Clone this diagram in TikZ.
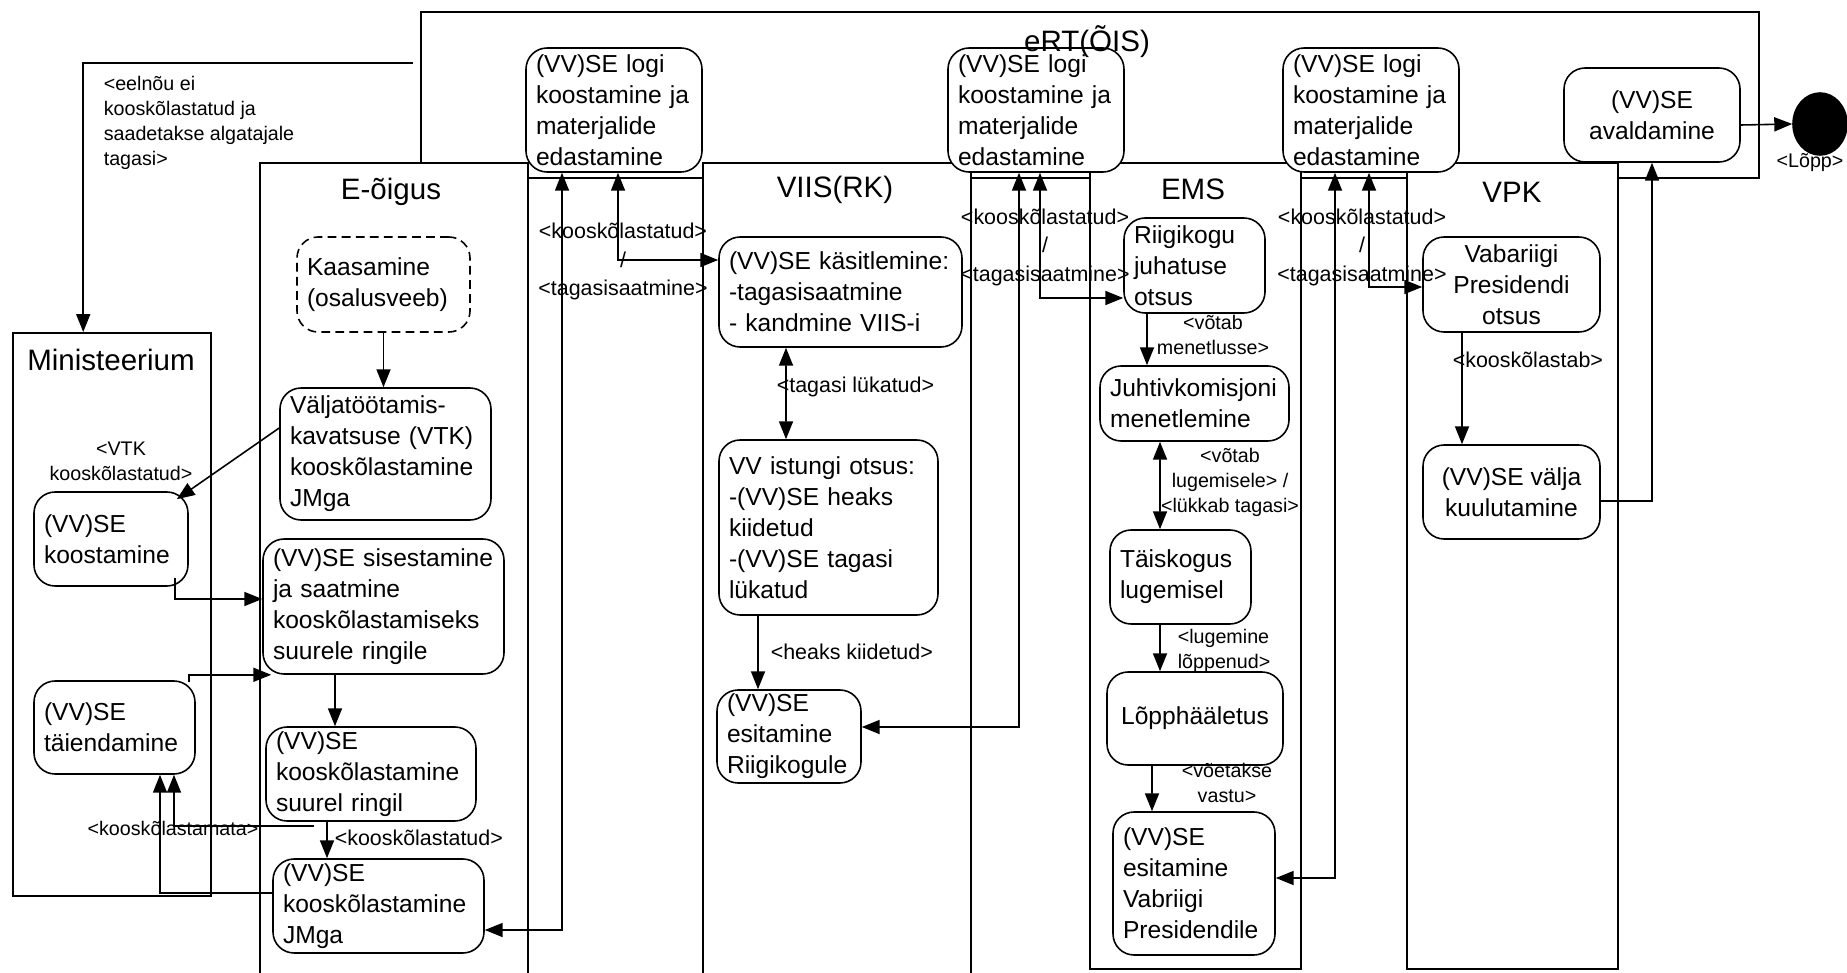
\documentclass[tikz,border=0pt]{standalone}
\usepackage{fontspec}
\setmainfont{Liberation Sans}
\usetikzlibrary{arrows.meta,shapes.geometric}

\newcommand{\boxfont}{\fontsize{7pt}{8.8pt}\selectfont}
\newcommand{\lanefont}{\fontsize{8.4pt}{10pt}\selectfont}
\newcommand{\lblfont}{\fontsize{5.6pt}{7.1pt}\selectfont}
\newcommand{\lblbfont}{\fontsize{6.1pt}{8.1pt}\selectfont}

\begin{document}
\begin{tikzpicture}
  [line width=.45pt,
   act/.style={draw,rounded corners=6pt,fill=white,font=\boxfont,align=left,inner xsep=.1cm,inner ysep=0pt},
   lane/.style={draw,fill=white,line width=.7pt,anchor=north west,inner sep=0pt},
   ttl/.style={font=\lanefont},
   lbl/.style={font=\lblfont,inner sep=0pt},
   lblb/.style={font=\lblbfont,inner sep=0pt},
   arr/.style={-{Triangle[length=5.1pt,width=4pt]}},
   arrs/.style={{Triangle[length=5.1pt,width=4pt]}-{Triangle[length=5.1pt,width=4pt]}}]
  \useasboundingbox (0,0) rectangle (18.47,-9.73);

  \node[lane,minimum width=13.38cm,minimum height=1.66cm] (ert) at (4.20,-0.11) {};
  \node[lane,minimum width=1.98cm,minimum height=5.63cm] (min) at (0.12,-3.32) {};
  \foreach \n/\x/\w/\h in {eoig/2.59/2.68/8.3, viis/7.02/2.68/8.3, ems/10.89/2.11/8.06, vpk/14.06/2.11/8.06}
    \node[lane,minimum width=\w cm,minimum height=\h cm] (\n) at (\x,-1.62) {};

  \node[act,dashed,dash pattern=on 2.5pt off 1.5pt,text width=1.53cm,minimum height=.95cm] (kaas) at (3.835,-2.845) {Kaasamine\\(osalusveeb)};
  \node[act,text width=1.91cm,minimum height=1.32cm] (valj) at (3.855,-4.54) {Väljatöötamis-\\kavatsuse (VTK)\\kooskõlastamine\\JMga};
  \node[act,text width=1.34cm,minimum height=.94cm] (koost) at (1.11,-5.39) {(VV)SE\\koostamine};
  \node[act,text width=2.21cm,minimum height=1.35cm] (sises) at (3.835,-6.065) {(VV)SE sisestamine\\ja saatmine\\kooskõlastamiseks\\suurele ringile};
  \node[act,text width=1.41cm,minimum height=.93cm] (taien) at (1.145,-7.275) {(VV)SE\\täiendamine};
  \node[act,text width=1.90cm,minimum height=.94cm] (suurel) at (3.71,-7.74) {(VV)SE\\kooskõlastamine\\suurel ringil};
  \node[act,text width=1.91cm,minimum height=.94cm] (jmga) at (3.785,-9.06) {(VV)SE\\kooskõlastamine\\JMga};
  \node[act,text width=1.56cm,minimum height=1.24cm] (logi1) at (6.14,-1.10) {(VV)SE logi\\koostamine ja\\materjalide\\edastamine};
  \node[act,text width=2.23cm,minimum height=1.10cm] (kasit) at (8.405,-2.92) {(VV)SE käsitlemine:\\-tagasisaatmine\\- kandmine VIIS-i};
  \node[act,text width=1.99cm,minimum height=1.75cm] (istung) at (8.285,-5.275) {VV istungi otsus:\\-(VV)SE heaks\\kiidetud\\-(VV)SE tagasi\\lükatud};
  \node[act,text width=1.24cm,minimum height=.93cm] (riigik) at (7.89,-7.365) {(VV)SE\\esitamine\\Riigikogule};
  \node[act,text width=1.56cm,minimum height=1.24cm] (logi2) at (10.36,-1.10) {(VV)SE logi\\koostamine ja\\materjalide\\edastamine};
  \node[act,text width=1.21cm,minimum height=.95cm] (juhat) at (11.945,-2.655) {Riigikogu\\juhatuse\\otsus};
  \node[act,text width=1.69cm,minimum height=.75cm] (juhtiv) at (11.945,-4.035) {Juhtivkomisjoni\\menetlemine};
  \node[act,text width=1.21cm,minimum height=.94cm] (taisk) at (11.805,-5.77) {Täiskogus\\lugemisel};
  \node[act,align=center,minimum width=1.76cm,minimum height=.93cm] (lopph) at (11.95,-7.185) {Lõpphääletus};
  \node[act,text width=1.42cm,minimum height=1.43cm] (presid) at (11.94,-8.835) {(VV)SE\\esitamine\\Vabriigi\\Presidendile};
  \node[act,text width=1.56cm,minimum height=1.24cm] (logi3) at (13.71,-1.10) {(VV)SE logi\\koostamine ja\\materjalide\\edastamine};
  \node[act,align=center,minimum width=1.77cm,minimum height=.95cm] (vabar) at (15.115,-2.845) {Vabariigi\\Presidendi\\otsus};
  \node[act,align=center,minimum width=1.77cm,minimum height=.94cm] (valja) at (15.115,-4.92) {(VV)SE välja\\kuulutamine};
  \node[act,align=center,minimum width=1.76cm,minimum height=.94cm] (avald) at (16.52,-1.15) {(VV)SE\\avaldamine};
  \node[draw,fill=black,ellipse,minimum width=.54cm,minimum height=.62cm,inner sep=0pt] (end) at (18.20,-1.24) {};

  \draw[arr] ([xshift=-.07cm,yshift=-.52cm]ert.north west) -| ([xshift=-.29cm]min.north);
  \draw[arr] (kaas.south) -- (kaas.south |- valj.north);
  \draw[arr] ([yshift=.26cm]valj.west) -- ([xshift=-.12cm,yshift=-.08cm]koost.north east);
  \draw[arr] ([xshift=-.14cm,yshift=.09cm]koost.south east) |- ([yshift=.075cm]sises.west);
  \draw[arr] ([xshift=-.07cm,yshift=-.02cm]taien.north east) |- ([xshift=.09cm]sises.south west);
  \draw[arr] ([xshift=-.485cm]sises.south) -- ([xshift=-.36cm]suurel.north);
  \draw[arr] ([xshift=-.44cm]suurel.south) -- ([xshift=-.515cm]jmga.north);
  \draw[arr] ([xshift=-.57cm,yshift=-.04cm]suurel.south) -| ([xshift=.595cm]taien.south);
  \draw[arr] ([yshift=.13cm]jmga.west) -| ([xshift=.455cm]taien.south);
  \draw[arrs] ([yshift=-.24cm]jmga.east) -| ([xshift=-.52cm]logi1.south);
  \draw[arrs] ([xshift=.04cm]logi1.south) |- ([yshift=.32cm]kasit.west);
  \draw[arrs] ([xshift=-.545cm]kasit.south) -- ([xshift=-.425cm]istung.north);
  \draw[arr] ([xshift=-.705cm]istung.south) -- ([xshift=-.31cm]riigik.north);
  \draw[arrs] ([xshift=-.17cm]logi2.south) |- ([yshift=.095cm]riigik.east);
  \draw[arrs] ([xshift=.04cm]logi2.south) |- ([yshift=-.325cm]juhat.west);
  \draw[arr] ([xshift=-.475cm]juhat.south) -- ([xshift=-.475cm]juhtiv.north);
  \draw[arrs] ([xshift=-.345cm]juhtiv.south) -- ([xshift=-.205cm]taisk.north);
  \draw[arr] ([xshift=-.205cm]taisk.south) -- ([xshift=-.35cm]lopph.north);
  \draw[arr] ([xshift=-.43cm]lopph.south) -- ([xshift=-.42cm]presid.north);
  \draw[arrs] ([xshift=-.36cm]logi3.south) |- ([yshift=.055cm]presid.east);
  \draw[arrs] ([xshift=-.02cm]logi3.south) |- ([yshift=-.025cm]vabar.west);
  \draw[arr] ([xshift=-.495cm]vabar.south) -- ([xshift=-.495cm]valja.north);
  \draw[arr] ([yshift=-.09cm]valja.east) -| (avald.south);
  \draw[arr] ([yshift=-.1cm]avald.east) -- (end.west);

  \node[lbl,anchor=west,align=left] (leel) at (1.03,-1.225) {<eelnõu ei\\kooskõlastatud ja\\saadetakse algatajale\\tagasi>};
  \node[lbl,align=center] (lvtk) at (1.21,-4.615) {<VTK\\kooskõlastatud>};
  \node[lbl] (lkm) at (1.73,-8.28) {<kooskõlastamata>};
  \node[lblb,anchor=west] (lks1) at (3.34,-8.38) {<kooskõlastatud>};
  \node[lblb,align=center] (lkt1) at (6.23,-2.615) {<kooskõlastatud>\\/\\<tagasisaatmine>};
  \node[lblb,anchor=west] (ltl) at (7.76,-3.87) {<tagasi lükatud>};
  \node[lblb,anchor=west] (lhk) at (7.70,-6.52) {<heaks kiidetud>};
  \node[lblb,align=center] (lkt2) at (10.45,-2.47) {<kooskõlastatud>\\/\\<tagasisaatmine>};
  \node[lbl,align=center] (lvm) at (12.13,-3.35) {<võtab\\menetlusse>};
  \node[lbl,align=center] (lvl) at (12.30,-4.82) {<võtab\\lugemisele> /\\<lükkab tagasi>};
  \node[lbl,anchor=west,align=left] (llp) at (11.77,-6.505) {<lugemine\\lõppenud>};
  \node[lbl,align=center] (lvv) at (12.27,-7.83) {<võetakse\\vastu>};
  \node[lblb,align=center] (lkt3) at (13.62,-2.47) {<kooskõlastatud>\\/\\<tagasisaatmine>};
  \node[lblb,anchor=west] (lkb) at (14.52,-3.60) {<kooskõlastab>};
  \node[lbl] (lend) at (18.10,-1.62) {<Lõpp>};

  \node[ttl] (tert) at (10.87,-0.42) {eRT(ÕIS)};
  \node[ttl] (tmin) at (1.11,-3.60) {Ministeerium};
  \node[ttl] (teoig) at (3.91,-1.92) {E-õigus};
  \node[ttl] (tviis) at (8.35,-1.90) {VIIS(RK)};
  \node[ttl] (tems) at (11.93,-1.89) {EMS};
  \node[ttl] (tvpk) at (15.12,-1.92) {VPK};
\end{tikzpicture}
\end{document}
